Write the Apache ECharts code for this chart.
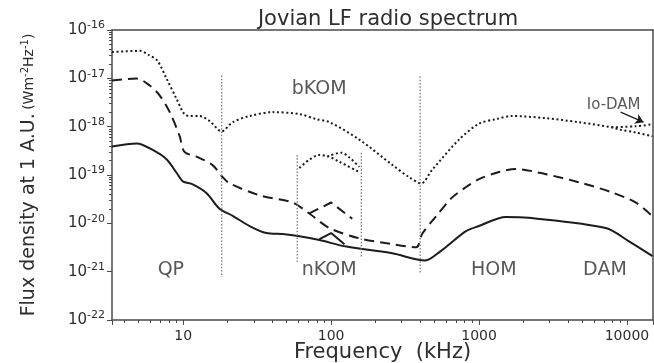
<!DOCTYPE html>
<html>
<head>
<meta charset="utf-8">
<title>Jovian LF radio spectrum</title>
<script src="https://cdn.jsdelivr.net/npm/echarts@6/dist/echarts.min.js"></script>
<style>
  html, body { margin: 0; padding: 0; background: #ffffff; }
  #chart { width: 654px; height: 363px; }
</style>
</head>
<body>
<div id="chart"></div>
<script>
// Frequencies in kHz, flux densities at 1 A.U. in W m^-2 Hz^-1

// Peak spectrum (dotted)
const peakFreq = [3.3, 5.1, 5.9, 6.7, 7.7, 9.0, 10.2, 11.1, 12.9, 15.1, 18.2, 21.6, 28.1, 40.2, 61.1, 79.4, 97.3, 155, 259, 337, 406, 481, 732, 998, 1300, 1667, 2826, 4716, 7870, 8770, 11430, 14890];
const peakFlux = [3.5e-17, 3.7e-17, 3.0e-17, 2.3e-17, 1.0e-17, 3.8e-18, 1.8e-18, 1.66e-18, 1.66e-18, 1.3e-18, 8.0e-19, 1.24e-18, 1.66e-18, 2.0e-18, 1.82e-18, 1.43e-18, 1.24e-18, 5.4e-19, 1.62e-19, 9.0e-20, 6.7e-20, 1.27e-19, 5.4e-19, 1.15e-18, 1.43e-18, 1.66e-18, 1.5e-18, 1.24e-18, 9.7e-19, 8.8e-19, 7.6e-19, 6.3e-19];

// Io-DAM branch of the peak spectrum (dotted)
const ioDamFreq = [7870, 11430, 14890];
const ioDamFlux = [9.7e-19, 1.02e-18, 1.12e-18];

// High-level spectrum (dashed)
const highFreq = [3.3, 4.85, 5.94, 6.94, 8.11, 9.47, 10.2, 12.3, 15.8, 18.5, 20.6, 32.8, 54.7, 71.2, 97.3, 155, 259, 376, 412, 512, 656, 815, 998, 1361, 1772, 2826, 4716, 7870, 11430, 14890];
const highFlux = [9.0e-18, 9.9e-18, 7.1e-18, 4.4e-18, 2.0e-18, 6.3e-19, 3.0e-19, 2.4e-19, 1.6e-19, 9.0e-20, 6.7e-20, 3.8e-20, 2.7e-20, 1.6e-20, 8.0e-21, 4.9e-21, 3.7e-21, 3.2e-21, 6.0e-21, 1.4e-20, 3.4e-20, 5.6e-20, 8.2e-20, 1.15e-19, 1.33e-19, 1.04e-19, 7.1e-20, 4.4e-20, 2.7e-20, 1.4e-20];

// Average spectrum (solid)
const avgFreq = [3.3, 4.85, 6.22, 7.74, 9.04, 9.93, 11.6, 14.4, 17.6, 21.6, 28.1, 36.5, 46.9, 61.1, 83.4, 127, 259, 432, 545, 816, 998, 1517, 2168, 7180, 10260, 14890];
const avgFlux = [3.9e-19, 4.5e-19, 3.3e-19, 2.1e-19, 1.1e-19, 7.4e-20, 6.4e-20, 4.2e-20, 2.0e-20, 1.43e-20, 8.8e-21, 6.3e-21, 6.0e-21, 5.4e-21, 4.5e-21, 3.3e-21, 2.4e-21, 1.7e-21, 2.6e-21, 6.9e-21, 8.8e-21, 1.36e-20, 1.3e-20, 8.0e-21, 4.3e-21, 2.1e-21];

// nKOM bumps for each level
const nkomPeakAFreq = [61, 71, 83, 97, 114, 155];
const nkomPeakAFlux = [1.4e-19, 2.06e-19, 2.6e-19, 2.4e-19, 1.87e-19, 1.15e-19];
const nkomPeakBFreq = [94, 117, 133, 155];
const nkomPeakBFlux = [2.4e-19, 2.9e-19, 2.3e-19, 1.47e-19];
const nkomHighFreq = [71.2, 100, 139];
const nkomHighFlux = [1.6e-20, 2.7e-20, 1.24e-20];
const nkomAvgFreq = [83.4, 100, 123];
const nkomAvgFlux = [4.7e-21, 6.3e-21, 3.7e-21];

// Component boundaries (vertical dotted lines)
const boundaryFreq = [18.2, 59, 160, 400];
const boundaryTop = [1.15e-17, 2.6e-19, 2.9e-19, 1.1e-17];
const boundaryBottom = [7.8e-22, 1.6e-21, 1.9e-21, 9.0e-22];

// Component names
const regionNames = ['bKOM', 'QP', 'nKOM', 'HOM', 'DAM'];
const regionFreq = [83, 8.25, 97, 1259, 7100];
const regionFlux = [6.1e-18, 1.1e-21, 1.1e-21, 1.1e-21, 1.1e-21];

// Io-DAM annotation
const ioDamLabel = 'Io-DAM';
const ioDamLabelAt = [8130, 2.8e-18];
const ioDamArrowFrom = [9060, 2.0e-18];
const ioDamArrowTo = [12940, 1.24e-18];

// Axis tick labels (the flux axis spans whole decades, 1e-22 .. 1e-16)
const freqRange = [3.3, 15000];
const xTickLabels = ['10', '100', '1000', '10000'];
const yTickExponents = [-16, -17, -18, -19, -20, -21, -22];

const FONT = 'DejaVu Sans';
const INK = '#1c1c1c';
const TEXT = '#2e2e2e';
const AXIS = '#4a4a4a';

const zip = (xs, ys) => xs.map((x, i) => [x, ys[i]]);

function decade(v) {
  if (!(v > 0)) return null;
  const e = Math.log10(v);
  const r = Math.round(e);
  return Math.abs(e - r) < 1e-6 ? r : null;
}
function xLabel(v) {
  const r = decade(v);
  if (r === null) return '';
  const s = String(Math.round(Math.pow(10, r)));
  return xTickLabels.indexOf(s) >= 0 ? s : '';
}
function yLabel(v) {
  const r = decade(v);
  if (r === null || yTickExponents.indexOf(r) < 0) return '';
  return '{b|10}{s|' + r + '}';
}

// Bottom/left axes carry ticks and labels; top/right only close the frame
function xAxisCfg(pos) {
  const main = pos === 'bottom';
  return {
    type: 'log', min: freqRange[0], max: freqRange[1], position: pos,
    axisLine: { show: true, onZero: false, lineStyle: { color: AXIS, width: 1.5 } },
    axisTick: { show: main, length: 5, lineStyle: { color: AXIS } },
    minorTick: { show: main, splitNumber: 9, length: 3, lineStyle: { color: AXIS } },
    splitLine: { show: false },
    axisLabel: main
      ? { show: true, formatter: xLabel, fontFamily: FONT, fontSize: 14, color: TEXT, margin: 9 }
      : { show: false }
  };
}
function yAxisCfg(pos) {
  const main = pos === 'left';
  return {
    type: 'log', position: pos,
    axisLine: { show: true, onZero: false, lineStyle: { color: AXIS, width: 1.5 } },
    axisTick: { show: main, length: 5, lineStyle: { color: AXIS } },
    minorTick: { show: main, splitNumber: 9, length: 3, lineStyle: { color: AXIS } },
    splitLine: { show: false },
    axisLabel: main
      ? {
          show: true, formatter: yLabel, margin: 7,
          rich: {
            b: { fontFamily: FONT, fontSize: 15, color: TEXT },
            s: { fontFamily: FONT, fontSize: 11, color: TEXT, padding: [0, 0, 9, 0] }
          }
        }
      : { show: false }
  };
}

const xBottom = xAxisCfg('bottom');
xBottom.name = 'Frequency  (kHz)';
xBottom.nameLocation = 'middle';
xBottom.nameGap = 22;
xBottom.nameMoveOverlap = false;
xBottom.nameTextStyle = { fontFamily: FONT, fontSize: 21, color: TEXT };

const yLeft = yAxisCfg('left');
yLeft.name = '{m|Flux density at 1 A.U.} {u|(Wm}{s|-2}{u|Hz}{s|-1}{u|)}';
yLeft.nameLocation = 'middle';
yLeft.nameGap = 73;
yLeft.nameTextStyle = {
  rich: {
    m: { fontFamily: FONT, fontSize: 19, color: TEXT },
    u: { fontFamily: FONT, fontSize: 14, color: TEXT },
    s: { fontFamily: FONT, fontSize: 10, color: TEXT, padding: [0, 0, 8, 0] }
  }
};

function curve(name, xs, ys, style, extra) {
  return Object.assign({
    name, type: 'line', xAxisIndex: 0, yAxisIndex: 0,
    data: zip(xs, ys), showSymbol: false, symbol: 'none',
    smooth: 0.3, silent: true,
    lineStyle: Object.assign({ color: INK, width: 2 }, style)
  }, extra || {});
}

const DOT = { type: [2, 2.6], width: 2, cap: 'butt' };
const DASH = { type: [10, 6], width: 2 };
const SOLID = { type: 'solid', width: 2 };

const series = [
  curve('peak', peakFreq, peakFlux, DOT),
  curve('ioDam', ioDamFreq, ioDamFlux, DOT, {
    markLine: {
      silent: true, animation: false,
      symbol: ['none', 'arrow'], symbolSize: 8,
      label: { show: false },
      lineStyle: { color: INK, width: 1.2, type: 'solid' },
      data: [[{ coord: ioDamArrowFrom }, { coord: ioDamArrowTo }]]
    }
  }),
  curve('high', highFreq, highFlux, DASH),
  curve('avg', avgFreq, avgFlux, SOLID),
  curve('nkomPeakA', nkomPeakAFreq, nkomPeakAFlux, DOT),
  curve('nkomPeakB', nkomPeakBFreq, nkomPeakBFlux, DOT),
  curve('nkomHigh', nkomHighFreq, nkomHighFlux, DASH, { smooth: false }),
  curve('nkomAvg', nkomAvgFreq, nkomAvgFlux, SOLID, { smooth: false })
];

boundaryFreq.forEach((f, i) => {
  series.push({
    name: 'boundary' + i, type: 'line', silent: true,
    data: [[f, boundaryTop[i]], [f, boundaryBottom[i]]],
    showSymbol: false, symbol: 'none',
    lineStyle: { color: '#7a7a7a', width: 1.3, type: [1.5, 1.8] }
  });
});

// The right-hand frame axis takes the same decades as the left one
series.push({
  name: 'rightFrame', type: 'line', xAxisIndex: 0, yAxisIndex: 1, silent: true,
  data: zip(boundaryFreq, boundaryBottom).concat(zip(peakFreq, peakFlux)),
  showSymbol: false, symbol: 'none', lineStyle: { opacity: 0 }
});

series.push({
  name: 'regions', type: 'scatter', silent: true,
  symbolSize: 0, itemStyle: { color: 'transparent' },
  data: regionNames.map((n, i) => ({ name: n, value: [regionFreq[i], regionFlux[i]] })),
  label: {
    show: true, position: 'inside', formatter: '{b}',
    fontFamily: FONT, fontSize: 19, color: TEXT
  }
});
series.push({
  name: 'ioDamLabel', type: 'scatter', silent: true,
  symbolSize: 0, itemStyle: { color: 'transparent' },
  data: [{ name: ioDamLabel, value: ioDamLabelAt }],
  label: {
    show: true, position: 'inside', formatter: '{b}',
    fontFamily: FONT, fontSize: 15, color: TEXT
  }
});

const chart = echarts.init(document.getElementById('chart'), null, { renderer: 'canvas' });
chart.setOption({
  animation: false,
  backgroundColor: '#ffffff',
  title: {
    text: 'Jovian LF radio spectrum',
    left: 383, top: 4, textAlign: 'center',
    textStyle: { fontFamily: FONT, fontSize: 21, fontWeight: 'normal', color: TEXT }
  },
  grid: { left: 112, right: 1, top: 30, bottom: 43, containLabel: false, outerBoundsMode: 'none' },
  xAxis: [xBottom, xAxisCfg('top')],
  yAxis: [yLeft, yAxisCfg('right')],
  series
});
</script>
</body>
</html>
